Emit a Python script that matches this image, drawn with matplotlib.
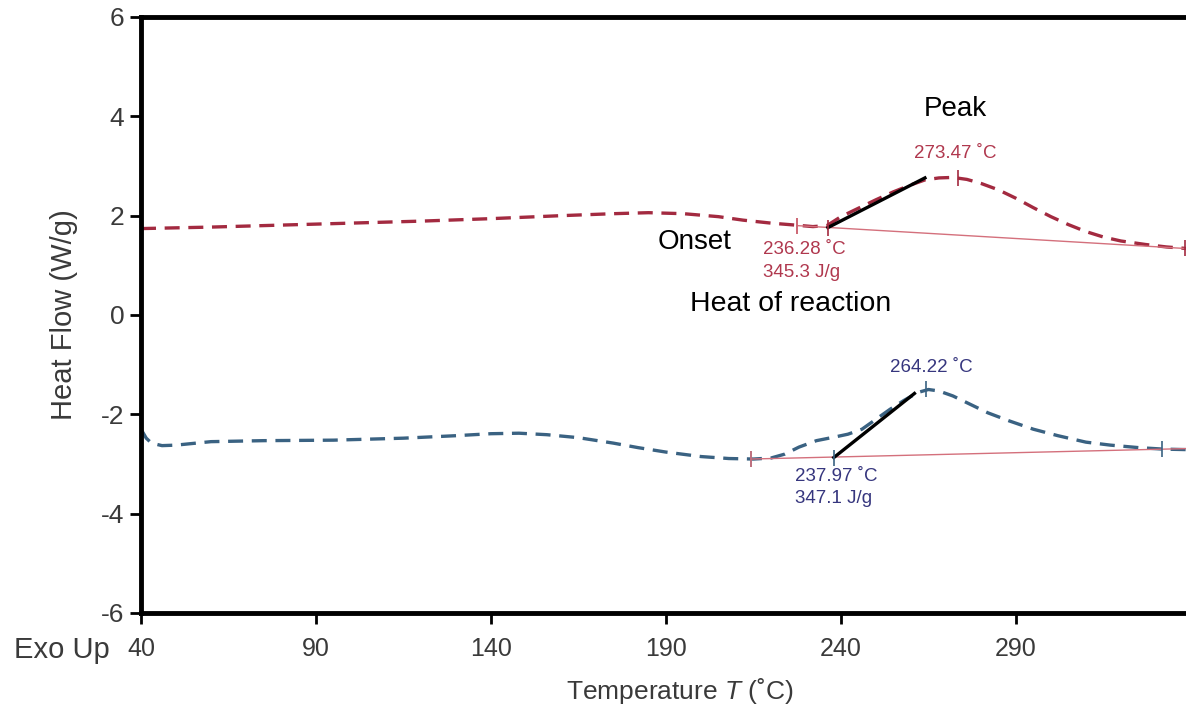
import numpy as np
import matplotlib
matplotlib.use("Agg")
import matplotlib.pyplot as plt

plt.rcParams['font.family'] = ['Liberation Sans', 'DejaVu Sans']
plt.rcParams['mathtext.fontset'] = 'custom'
plt.rcParams['mathtext.it'] = 'Liberation Sans:italic'
plt.rcParams['mathtext.rm'] = 'Liberation Sans'
plt.rcParams['axes.unicode_minus'] = False

# DSC scans, heat flow (W/g) against temperature (C)
temp_red = [40, 60, 80, 100, 120, 140, 160, 175, 185, 195, 205, 212, 220, 227,
            232, 236, 240, 245, 250, 255, 260, 264, 268, 272, 276, 280, 285,
            290, 295, 300, 305, 310, 315, 320, 327, 333, 338.6]
flow_red = [1.74, 1.77, 1.81, 1.85, 1.89, 1.94, 2.00, 2.04, 2.06, 2.04, 1.98,
            1.91, 1.85, 1.81, 1.78, 1.80, 1.98, 2.15, 2.32, 2.48, 2.62, 2.72,
            2.76, 2.77, 2.73, 2.65, 2.52, 2.35, 2.16, 1.98, 1.82, 1.68, 1.57,
            1.49, 1.42, 1.37, 1.34]

temp_blue = [40, 41.5, 43, 46, 50, 60, 75, 95, 115, 130, 140, 148, 156, 165,
             175, 182, 190, 200, 208, 215, 220, 224, 228, 233, 238, 242, 246,
             250, 254, 258, 262, 265, 268, 272, 277, 282, 288, 295, 302, 310,
             317, 325, 332, 338.6]
flow_blue = [-2.30, -2.48, -2.58, -2.63, -2.62, -2.55, -2.53, -2.52, -2.48,
             -2.43, -2.39, -2.38, -2.41, -2.47, -2.58, -2.67, -2.76, -2.85,
             -2.89, -2.90, -2.88, -2.80, -2.66, -2.53, -2.46, -2.40, -2.30,
             -2.10, -1.90, -1.72, -1.56, -1.50, -1.53, -1.63, -1.80, -1.97,
             -2.13, -2.30, -2.43, -2.56, -2.62, -2.67, -2.70, -2.71]

# peak analysis results (start, onset, peak, end) and tangent end points
red_start, red_onset, red_peak, red_end = 227.4, 236.28, 273.47, 338.2
red_vals = [1.80, 1.76, 2.76, 1.34]
red_tangent_end = (264.0, 2.76)
red_enthalpy = 345.3

blue_start, blue_onset, blue_peak, blue_end = 214.3, 237.97, 264.22, 331.7
blue_vals = [-2.90, -2.87, -1.50, -2.70]
blue_tangent_end = (261.0, -1.58)
blue_enthalpy = 347.1

xticks = [40, 90, 140, 190, 240, 290]
yticks = [-6, -4, -2, 0, 2, 4, 6]

red_c = '#a32a40'
red_txt = '#b0384e'
blue_c = '#3a6282'
blue_txt = '#36367e'
base_c = '#d4707c'
gray = '#3a3a3a'

fig = plt.figure(figsize=(11.86, 7.14), dpi=100)
ax = fig.add_axes([141/1186, 1 - 613/714, 1 - 141/1186, 596/714])

ax.plot(temp_red, flow_red, color=red_c, lw=2.4, dashes=(4.5, 2.6))
ax.plot(temp_blue, flow_blue, color=blue_c, lw=2.4, dashes=(4.5, 2.6))

# baselines
ax.plot([red_start, red_end], [red_vals[0], red_vals[3]], color=base_c, lw=1.0)
ax.plot([blue_start, 338.6], [blue_vals[0], -2.69], color=base_c, lw=1.0)

# onset tangents
ax.plot([red_onset, red_tangent_end[0]], [red_vals[1], red_tangent_end[1]],
        color='black', lw=2.4)
ax.plot([blue_onset, blue_tangent_end[0]], [blue_vals[1], blue_tangent_end[1]],
        color='black', lw=2.4)

# limit markers
ax.plot([red_start, red_onset, red_peak, red_end], red_vals, ls='none',
        marker='|', ms=11, mew=1.2, color=red_c)
ax.plot([blue_start, blue_onset, blue_peak, blue_end], blue_vals, ls='none',
        marker='|', ms=11, mew=1.2, color=blue_c)
ax.plot([red_start, blue_start], [red_vals[0], blue_vals[0]], ls='none',
        marker='|', ms=11, mew=1.2, color=base_c)

# result labels
small = dict(fontsize=13.5, va='center')
ax.text(272.6, 3.25, f'{red_peak:.2f} ˚C', color=red_txt, ha='center', **small)
ax.text(217.7, 1.32, f'{red_onset:.2f} ˚C', color=red_txt, ha='left', **small)
ax.text(217.7, 0.85, f'{red_enthalpy:.1f} J/g', color=red_txt, ha='left', **small)
ax.text(265.7, -1.06, f'{blue_peak:.2f} ˚C', color=blue_txt, ha='center', **small)
ax.text(227.0, -3.25, f'{blue_onset:.2f} ˚C', color=blue_txt, ha='left', **small)
ax.text(227.0, -3.69, f'{blue_enthalpy:.1f} J/g', color=blue_txt, ha='left', **small)

ax.text(272.6, 4.15, 'Peak', fontsize=20, ha='center', va='center')
ax.text(187.7, 1.46, 'Onset', fontsize=20, ha='left', va='center')
ax.text(196.9, 0.22, 'Heat of reaction', fontsize=20.5, ha='left', va='center')

ax.text(3.7, -6.74, 'Exo Up', fontsize=21, color=gray, ha='left',
        va='center', clip_on=False)

ax.set_xlim(40, 338.6)
ax.set_ylim(-6, 6)
ax.set_xticks(xticks)
ax.set_yticks(yticks)
ax.tick_params(axis='both', colors='black', labelcolor=gray,
               width=2, length=8, direction='out')
ax.tick_params(axis='y', labelsize=19, pad=4)
ax.tick_params(axis='x', labelsize=18, pad=9)

for side in ['left', 'bottom', 'top']:
    ax.spines[side].set_linewidth(3.5)
    ax.spines[side].set_color('black')
ax.spines['right'].set_visible(False)

ax.set_ylabel('Heat Flow (W/g)', fontsize=21, color=gray)
ax.yaxis.set_label_coords((78 - 141) / 1045, 0.5)
ax.set_xlabel('Temperature $\\mathit{T}$ (˚C)', fontsize=19, color=gray)
ax.xaxis.set_label_coords((680 - 141) / 1045, (613 - 676) / 596)

fig.savefig('out.png', dpi=100)
